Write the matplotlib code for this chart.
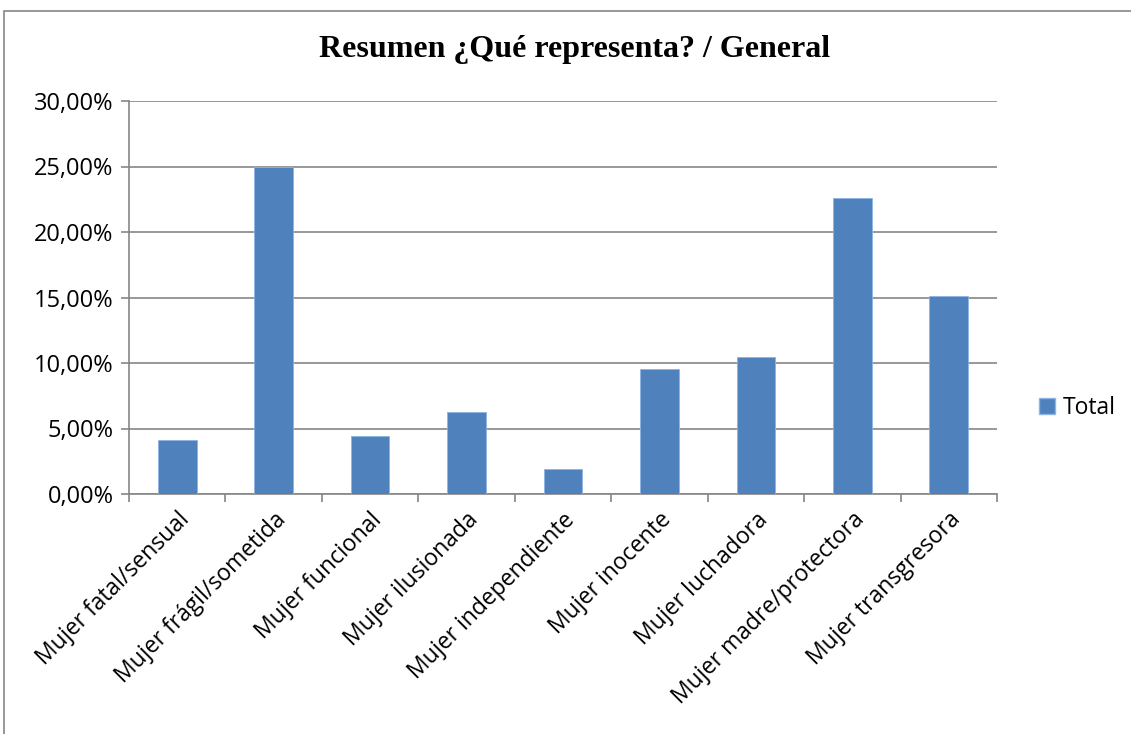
import matplotlib
matplotlib.use("Agg")
import matplotlib.pyplot as plt
from matplotlib.patches import Rectangle, Patch
from matplotlib.ticker import FuncFormatter, FixedLocator, NullFormatter

categories = ["Mujer fatal/sensual", "Mujer frágil/sometida", "Mujer funcional",
              "Mujer ilusionada", "Mujer independiente", "Mujer inocente",
              "Mujer luchadora", "Mujer madre/protectora", "Mujer transgresora"]
values = [4.10, 25.00, 4.46, 6.29, 1.91, 9.56, 10.44, 22.60, 15.14]
yticks = [0, 5, 10, 15, 20, 25, 30]
title = "Resumen ¿Qué representa? / General"
series_name = "Total"

W, H = 1131, 734
fig = plt.figure(figsize=(W/100, H/100), dpi=100)
fig.patch.set_facecolor("white")

# outer chart border (top & left visible)
fig.add_artist(Rectangle((4/W, -0.1), 1.2, (H-11)/H + 0.1, transform=fig.transFigure,
                         fill=False, edgecolor="#868686", linewidth=1.2))

ax = fig.add_axes([129/W, 1-494/H, (997-129)/W, (494-101)/H])
bar_color = "#4F81BD"
x = list(range(len(categories)))
ax.bar(x, values, width=0.4, color=bar_color, edgecolor="#8EB4E3", linewidth=0.6, zorder=3)

ax.set_xlim(-0.5, len(categories)-0.5)
ax.set_ylim(0, 30)
ax.set_yticks(yticks)
ax.yaxis.set_major_formatter(FuncFormatter(lambda v, p: f"{v:.2f}".replace(".", ",") + "%"))
ax.grid(axis="y", color="#868686", linewidth=1.2, zorder=0)
ax.set_axisbelow(True)

for s in ["top", "right"]:
    ax.spines[s].set_visible(False)
for s in ["left", "bottom"]:
    ax.spines[s].set_color("#868686")
    ax.spines[s].set_linewidth(1.2)

font = "Open Sans"
fs = 16.5
ax.tick_params(axis="y", length=6, width=1.2, color="#868686", labelsize=17, pad=5)
for lab in ax.get_yticklabels():
    lab.set_fontfamily(font)

# category boundary ticks
ax.xaxis.set_major_locator(FixedLocator([i - 0.5 for i in range(len(categories)+1)]))
ax.xaxis.set_major_formatter(NullFormatter())
ax.tick_params(axis="x", which="major", length=6, width=1.2, color="#868686")
ax.xaxis.set_minor_locator(FixedLocator(x))
ax.set_xticklabels(categories, minor=True, rotation=45, ha="right", va="top",
                   rotation_mode="anchor", fontsize=fs, fontfamily=font)
ax.tick_params(axis="x", which="minor", length=0, pad=10)

fig.text(575/W, 1-50/H, title, ha="center", va="center", fontsize=23,
         fontweight="bold", fontfamily="Liberation Serif")

leg = fig.legend(handles=[Patch(facecolor=bar_color, edgecolor="#8EB4E3")],
                 labels=[series_name], loc="center left",
                 bbox_to_anchor=(1018/W, 1-408/H), frameon=False,
                 handlelength=0.7, handleheight=0.7, handletextpad=0.35,
                 prop={"family": font, "size": fs})

fig.savefig("out.png", dpi=100, facecolor="white")
